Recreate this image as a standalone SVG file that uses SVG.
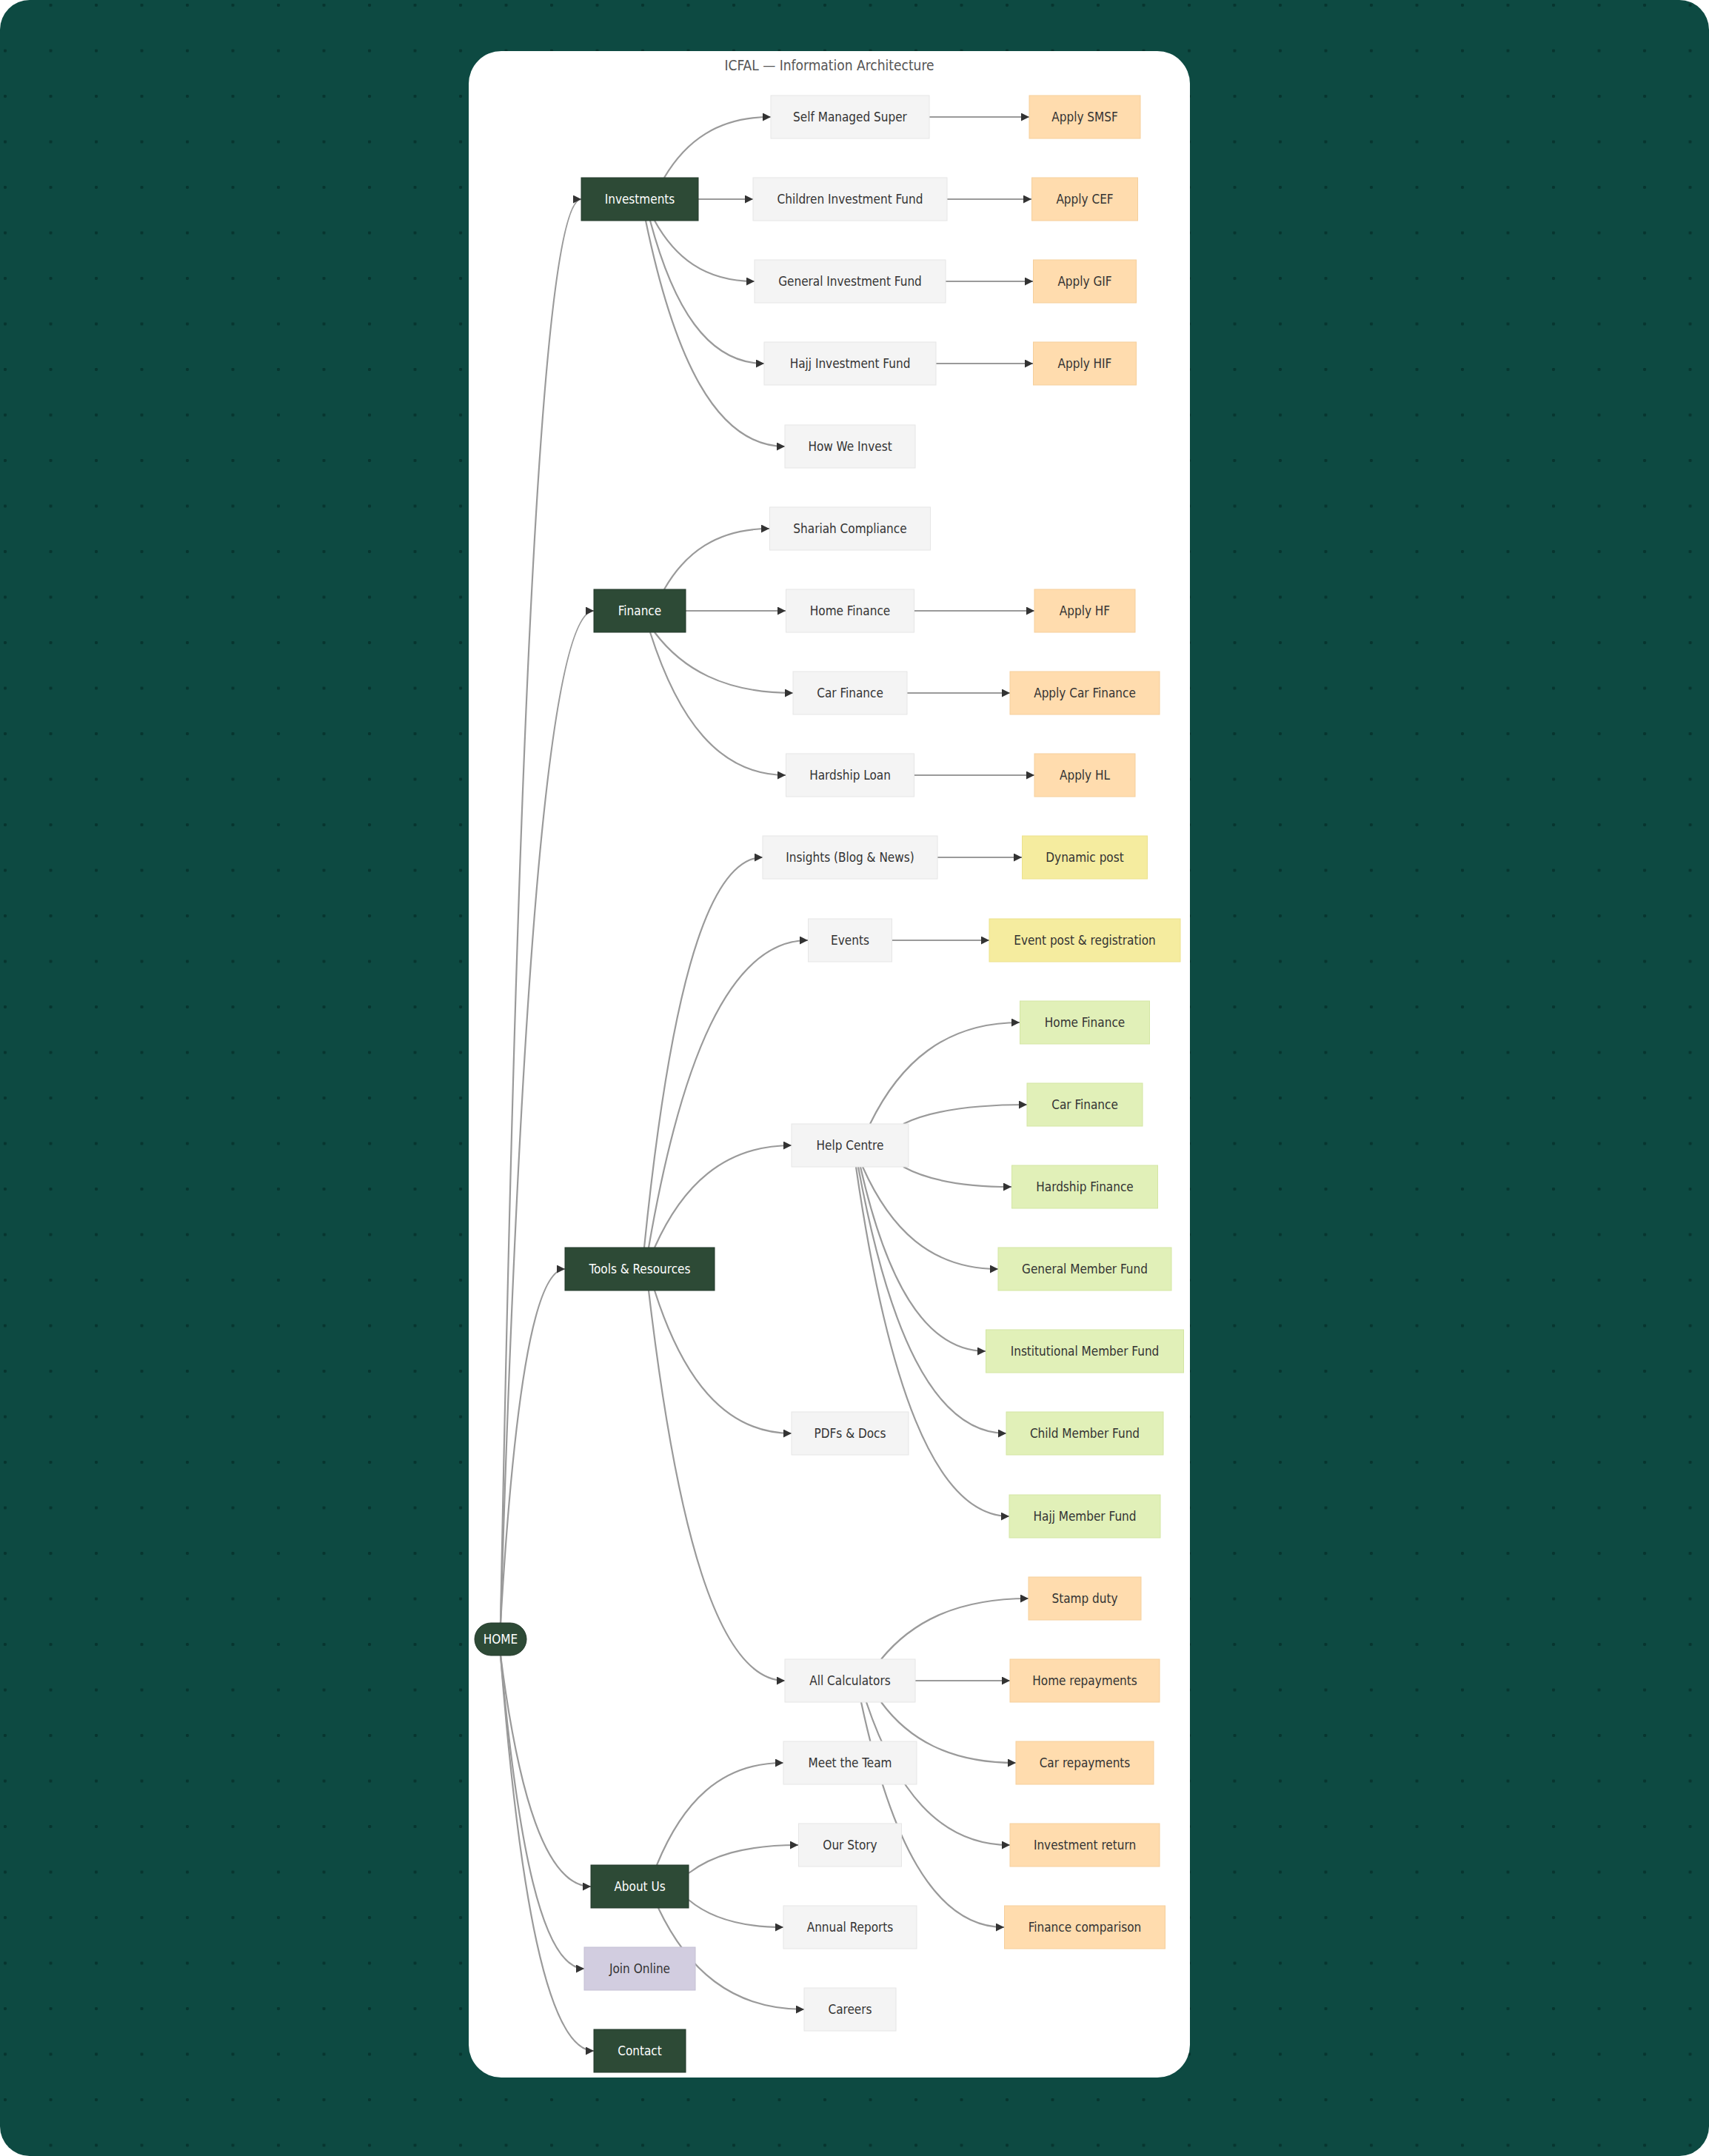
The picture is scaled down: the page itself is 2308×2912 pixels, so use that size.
<svg xmlns="http://www.w3.org/2000/svg" width="2308" height="2912" viewBox="0 0 2308 2912">
<defs>
<pattern id="dots" x="5" y="5" width="61.5" height="61.5" patternUnits="userSpaceOnUse"><circle cx="2" cy="2" r="2.2" fill="#07352f"/></pattern>
<marker id="arr" viewBox="0 0 10 10" refX="10" refY="5" markerWidth="5" markerHeight="5" orient="auto"><path d="M0,0 L10,5 L0,10 z" fill="#333"/></marker>
<style>
.e{fill:none;stroke:#9a9a9a;stroke-width:2.2;marker-end:url(#arr)}
text{font-family:"DejaVu Sans Condensed","DejaVu Sans",sans-serif;font-size:17px;text-anchor:middle;dominant-baseline:central;fill:#333}
.d rect{fill:#2d4a36;stroke:#23392a;stroke-width:1}
.d text{fill:#fff}
.g rect{fill:#f4f4f4;stroke:#e6e6e6;stroke-width:1}
.o rect{fill:#ffdcae;stroke:#f5cf9c;stroke-width:1}
.y rect{fill:#f5ec9f;stroke:#ece28c;stroke-width:1}
.l rect{fill:#e1f0b8;stroke:#d3e6a3;stroke-width:1}
.p rect{fill:#d2cde0;stroke:#c4bfd3;stroke-width:1}
</style>
</defs>
<rect width="2308" height="2912" fill="#ffffff"/>
<rect width="2308" height="2912" rx="40" fill="#0d4a42"/>
<rect width="2308" height="2912" rx="40" fill="url(#dots)"/>
<rect x="633" y="69" width="974" height="2737" rx="44" fill="#ffffff"/>
<text x="1120" y="88" style="font-size:19px;fill:#555">ICFAL — Information Architecture</text>
<g id="connectors">
<path class="e" d="M676,2192 C698,1038 730,269 785,269"/>
<path class="e" d="M676,2192 C701,1372 739,825 802,825"/>
<path class="e" d="M676,2192 C693,1905 719,1714 763,1714"/>
<path class="e" d="M676,2236 C700,2423 737,2548 798,2548"/>
<path class="e" d="M676,2236 C699,2490 732,2659 789,2659"/>
<path class="e" d="M676,2236 C701,2556 739,2770 802,2770"/>
<path class="e" d="M897,240 C926,191 969,158 1041,158"/>
<path class="e" d="M943,269 L1017,269"/>
<path class="e" d="M884,298 C911,347 951,380 1019,380"/>
<path class="e" d="M878,298 C909,414 955,491 1032,491"/>
<path class="e" d="M872,298 C910,481 966,603 1060,603"/>
<path class="e" d="M1255,158 L1390,158"/>
<path class="e" d="M1279,269 L1393,269"/>
<path class="e" d="M1277,380 L1395,380"/>
<path class="e" d="M1264,491 L1395,491"/>
<path class="e" d="M897,796 C925,747 968,714 1039,714"/>
<path class="e" d="M926,825 L1061,825"/>
<path class="e" d="M884,854 C921,903 977,936 1071,936"/>
<path class="e" d="M878,854 C915,970 970,1047 1061,1047"/>
<path class="e" d="M1234,825 L1397,825"/>
<path class="e" d="M1225,936 L1364,936"/>
<path class="e" d="M1234,1047 L1397,1047"/>
<path class="e" d="M870,1685 C902,1369 950,1158 1030,1158"/>
<path class="e" d="M876,1685 C919,1436 984,1270 1091,1270"/>
<path class="e" d="M884,1685 C921,1602 977,1547 1069,1547"/>
<path class="e" d="M884,1743 C921,1859 977,1936 1069,1936"/>
<path class="e" d="M876,1743 C913,2059 968,2270 1060,2270"/>
<path class="e" d="M1266,1158 L1380,1158"/>
<path class="e" d="M1204,1270 L1336,1270"/>
<path class="e" d="M1175,1518 C1215,1436 1276,1381 1377,1381"/>
<path class="e" d="M1220,1518 C1253,1502 1303,1492 1387,1492"/>
<path class="e" d="M1220,1576 C1249,1592 1293,1603 1366,1603"/>
<path class="e" d="M1165,1576 C1202,1659 1256,1714 1348,1714"/>
<path class="e" d="M1162,1576 C1196,1725 1247,1825 1331,1825"/>
<path class="e" d="M1159,1576 C1199,1792 1259,1936 1359,1936"/>
<path class="e" d="M1156,1576 C1197,1859 1260,2048 1363,2048"/>
<path class="e" d="M1190,2241 C1230,2192 1290,2159 1389,2159"/>
<path class="e" d="M1236,2270 L1364,2270"/>
<path class="e" d="M1190,2299 C1226,2348 1281,2381 1372,2381"/>
<path class="e" d="M1170,2299 C1209,2415 1267,2492 1364,2492"/>
<path class="e" d="M1163,2299 C1202,2481 1260,2603 1356,2603"/>
<path class="e" d="M887,2519 C921,2436 972,2381 1058,2381"/>
<path class="e" d="M930,2530 C960,2507 1004,2492 1078,2492"/>
<path class="e" d="M930,2566 C956,2588 994,2603 1058,2603"/>
<path class="e" d="M889,2577 C928,2659 987,2714 1086,2714"/>
</g>
<g id="home" class="d"><rect x="641" y="2192" width="70" height="44" rx="22"/><text x="676" y="2214">HOME</text></g>
<g id="investments" class="d"><rect x="785" y="240" width="158" height="58"/><text x="864" y="269">Investments</text></g>
<g id="finance" class="d"><rect x="802" y="796" width="124" height="58"/><text x="864" y="825">Finance</text></g>
<g id="tools" class="d"><rect x="763" y="1685" width="202" height="58"/><text x="864" y="1714">Tools &amp; Resources</text></g>
<g id="about" class="d"><rect x="798" y="2519" width="132" height="58"/><text x="864" y="2548">About Us</text></g>
<g id="join" class="p"><rect x="789" y="2630" width="150" height="58"/><text x="864" y="2659">Join Online</text></g>
<g id="contact" class="d"><rect x="802" y="2741" width="124" height="58"/><text x="864" y="2770">Contact</text></g>
<g id="smsf" class="g"><rect x="1041" y="129" width="214" height="58"/><text x="1148" y="158">Self Managed Super</text></g>
<g id="cif" class="g"><rect x="1017" y="240" width="262" height="58"/><text x="1148" y="269">Children Investment Fund</text></g>
<g id="gif" class="g"><rect x="1019" y="351" width="258" height="58"/><text x="1148" y="380">General Investment Fund</text></g>
<g id="hif" class="g"><rect x="1032" y="462" width="232" height="58"/><text x="1148" y="491">Hajj Investment Fund</text></g>
<g id="how" class="g"><rect x="1060" y="574" width="176" height="58"/><text x="1148" y="603">How We Invest</text></g>
<g id="shariah" class="g"><rect x="1039.5" y="685" width="217" height="58"/><text x="1148" y="714">Shariah Compliance</text></g>
<g id="homefin" class="g"><rect x="1061.5" y="796" width="173" height="58"/><text x="1148" y="825">Home Finance</text></g>
<g id="carfin" class="g"><rect x="1071" y="907" width="154" height="58"/><text x="1148" y="936">Car Finance</text></g>
<g id="hardship" class="g"><rect x="1061.5" y="1018" width="173" height="58"/><text x="1148" y="1047">Hardship Loan</text></g>
<g id="insights" class="g"><rect x="1030" y="1129" width="236" height="58"/><text x="1148" y="1158">Insights (Blog &amp; News)</text></g>
<g id="events" class="g"><rect x="1091.5" y="1241" width="113" height="58"/><text x="1148" y="1270">Events</text></g>
<g id="help" class="g"><rect x="1069" y="1518" width="158" height="58"/><text x="1148" y="1547">Help Centre</text></g>
<g id="pdfs" class="g"><rect x="1069" y="1907" width="158" height="58"/><text x="1148" y="1936">PDFs &amp; Docs</text></g>
<g id="calcs" class="g"><rect x="1060" y="2241" width="176" height="58"/><text x="1148" y="2270">All Calculators</text></g>
<g id="team" class="g"><rect x="1058" y="2352" width="180" height="58"/><text x="1148" y="2381">Meet the Team</text></g>
<g id="story" class="g"><rect x="1078.5" y="2463" width="139" height="58"/><text x="1148" y="2492">Our Story</text></g>
<g id="reports" class="g"><rect x="1058" y="2574" width="180" height="58"/><text x="1148" y="2603">Annual Reports</text></g>
<g id="careers" class="g"><rect x="1086" y="2685" width="124" height="58"/><text x="1148" y="2714">Careers</text></g>
<g id="apsmsf" class="o"><rect x="1390" y="129" width="150" height="58"/><text x="1465" y="158">Apply SMSF</text></g>
<g id="apcef" class="o"><rect x="1393.5" y="240" width="143" height="58"/><text x="1465" y="269">Apply CEF</text></g>
<g id="apgif" class="o"><rect x="1395.5" y="351" width="139" height="58"/><text x="1465" y="380">Apply GIF</text></g>
<g id="aphif" class="o"><rect x="1395.5" y="462" width="139" height="58"/><text x="1465" y="491">Apply HIF</text></g>
<g id="aphf" class="o"><rect x="1397" y="796" width="136" height="58"/><text x="1465" y="825">Apply HF</text></g>
<g id="apcar" class="o"><rect x="1364" y="907" width="202" height="58"/><text x="1465" y="936">Apply Car Finance</text></g>
<g id="aphl" class="o"><rect x="1397" y="1018" width="136" height="58"/><text x="1465" y="1047">Apply HL</text></g>
<g id="dyn" class="y"><rect x="1380.5" y="1129" width="169" height="58"/><text x="1465" y="1158">Dynamic post</text></g>
<g id="evpost" class="y"><rect x="1336" y="1241" width="258" height="58"/><text x="1465" y="1270">Event post &amp; registration</text></g>
<g id="hhf" class="l"><rect x="1377.5" y="1352" width="175" height="58"/><text x="1465" y="1381">Home Finance</text></g>
<g id="hcf" class="l"><rect x="1387" y="1463" width="156" height="58"/><text x="1465" y="1492">Car Finance</text></g>
<g id="hhs" class="l"><rect x="1366.5" y="1574" width="197" height="58"/><text x="1465" y="1603">Hardship Finance</text></g>
<g id="gmf" class="l"><rect x="1348" y="1685" width="234" height="58"/><text x="1465" y="1714">General Member Fund</text></g>
<g id="imf" class="l"><rect x="1331.5" y="1796" width="267" height="58"/><text x="1465" y="1825">Institutional Member Fund</text></g>
<g id="cmf" class="l"><rect x="1359" y="1907" width="212" height="58"/><text x="1465" y="1936">Child Member Fund</text></g>
<g id="hmf" class="l"><rect x="1363" y="2019" width="204" height="58"/><text x="1465" y="2048">Hajj Member Fund</text></g>
<g id="stamp" class="o"><rect x="1389" y="2130" width="152" height="58"/><text x="1465" y="2159">Stamp duty</text></g>
<g id="homerep" class="o"><rect x="1364" y="2241" width="202" height="58"/><text x="1465" y="2270">Home repayments</text></g>
<g id="carrep" class="o"><rect x="1372" y="2352" width="186" height="58"/><text x="1465" y="2381">Car repayments</text></g>
<g id="invret" class="o"><rect x="1364" y="2463" width="202" height="58"/><text x="1465" y="2492">Investment return</text></g>
<g id="fincomp" class="o"><rect x="1356.5" y="2574" width="217" height="58"/><text x="1465" y="2603">Finance comparison</text></g>
</svg>
